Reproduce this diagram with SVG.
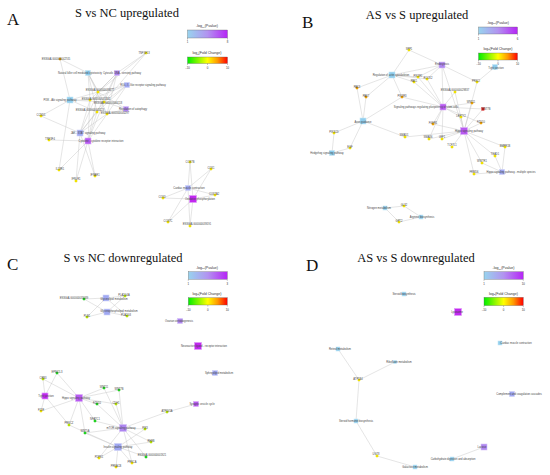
<svg xmlns="http://www.w3.org/2000/svg" width="550" height="475" viewBox="0 0 550 475">
<style>
.bg{fill:#fff}
.e line{stroke:#c4c4c4;stroke-width:0.45}
.lb{font-family:"Liberation Sans",Arial,sans-serif;font-size:2.6px;fill:#444;text-anchor:middle;dominant-baseline:central}
.ttl{font-family:"Liberation Serif","Times New Roman",serif;font-size:12.5px;fill:#111;text-anchor:middle}
.let{font-family:"Liberation Serif","Times New Roman",serif;font-size:17px;fill:#111}
.lgt{font-family:"Liberation Sans",Arial,sans-serif;font-size:3.6px;fill:#333;text-anchor:middle}
.tk{font-family:"Liberation Sans",Arial,sans-serif;font-size:2.8px;fill:#333;text-anchor:middle}
.bar{stroke:#666;stroke-width:0.35}
.tkl{stroke:#555;stroke-width:0.35}
.pb{fill:#8fcdee;stroke:#c6e6f6;stroke-width:0.6}
.pl{fill:#a0a8f2;stroke:#cfd3f8;stroke-width:0.6}
.pv{fill:#ae86f0;stroke:#d6c2f8;stroke-width:0.6}
.pp{fill:#b85af2;stroke:#dcb0f8;stroke-width:0.6}
.pm{fill:#c228f0;stroke:#e09cf8;stroke-width:0.7}
.gy{fill:#f2e400;stroke:#e0d000;stroke-width:0.2}
.go{fill:#f0a400;stroke:#d89000;stroke-width:0.2}
.gr{fill:#e41414;stroke:#c00000;stroke-width:0.2}
.gg{fill:#22d622;stroke:#14b014;stroke-width:0.2}
.gl{fill:#b8e400;stroke:#a0c800;stroke-width:0.2}
</style>
<defs>
<linearGradient id="gP" x1="0" x2="1" y1="0" y2="0">
<stop offset="0" stop-color="#98d4ee"/><stop offset="0.5" stop-color="#b293f0"/><stop offset="1" stop-color="#b624f6"/>
</linearGradient>
<linearGradient id="gF" x1="0" x2="1" y1="0" y2="0">
<stop offset="0" stop-color="#00ee00"/><stop offset="0.5" stop-color="#ffff00"/><stop offset="0.75" stop-color="#ff9900"/><stop offset="1" stop-color="#ff0000"/>
</linearGradient>
</defs>
<rect class="bg" x="0" y="0" width="550" height="475"/>

<!-- Titles -->
<g id="titles">
<text class="let" x="7" y="25">A</text>
<text class="ttl" x="127" y="17">S vs NC upregulated</text>
<text class="let" x="302" y="28">B</text>
<text class="ttl" x="417" y="19">AS vs S upregulated</text>
<text class="let" x="7" y="270">C</text>
<text class="ttl" x="123" y="262">S vs NC downregulated</text>
<text class="let" x="306" y="271">D</text>
<text class="ttl" x="416" y="262">AS vs S downregulated</text>
</g>

<!-- Legends -->
<g id="legend-A">
<text class="lgt" x="207" y="27">-log<tspan font-size="2.4" dy="0.8">10</tspan><tspan dy="-0.8">(Pvalue)</tspan></text>
<rect class="bar" x="187.5" y="30" width="40" height="8" fill="url(#gP)"/>
<line class="tkl" x1="187.5" y1="38" x2="187.5" y2="39.5"/><line class="tkl" x1="227.5" y1="38" x2="227.5" y2="39.5"/>
<text class="tk" x="187.5" y="42.5">1</text><text class="tk" x="227.5" y="42.5">8</text>
<text class="lgt" x="207" y="54">log<tspan font-size="2.4" dy="0.8">2</tspan><tspan dy="-0.8">(Fold Change)</tspan></text>
<rect class="bar" x="187.5" y="57" width="40" height="6.5" fill="url(#gF)"/>
<line class="tkl" x1="187.5" y1="63.5" x2="187.5" y2="65"/><line class="tkl" x1="207.5" y1="63.5" x2="207.5" y2="65"/><line class="tkl" x1="227.5" y1="63.5" x2="227.5" y2="65"/>
<text class="tk" x="187.5" y="68.5">−10</text><text class="tk" x="207.5" y="68.5">0</text><text class="tk" x="227.5" y="68.5">10</text>
</g>
<g id="legend-B">
<text class="lgt" x="498" y="23.5">-log<tspan font-size="2.4" dy="0.8">10</tspan><tspan dy="-0.8">(Pvalue)</tspan></text>
<rect class="bar" x="478.5" y="27" width="39" height="7" fill="url(#gP)"/>
<line class="tkl" x1="478.5" y1="34" x2="478.5" y2="35.5"/><line class="tkl" x1="517.5" y1="34" x2="517.5" y2="35.5"/>
<text class="tk" x="478.5" y="39.5">1</text><text class="tk" x="517.5" y="39.5">6</text>
<text class="lgt" x="498" y="49.5">log<tspan font-size="2.4" dy="0.8">2</tspan><tspan dy="-0.8">(Fold Change)</tspan></text>
<rect class="bar" x="478.5" y="53" width="39" height="7" fill="url(#gF)"/>
<line class="tkl" x1="478.5" y1="60" x2="478.5" y2="61.5"/><line class="tkl" x1="498" y1="60" x2="498" y2="61.5"/><line class="tkl" x1="517.5" y1="60" x2="517.5" y2="61.5"/>
<text class="tk" x="478.5" y="64.5">−10</text><text class="tk" x="498" y="64.5">0</text><text class="tk" x="517.5" y="64.5">10</text>
</g>
<g id="legend-C">
<text class="lgt" x="207" y="268.5">-log<tspan font-size="2.4" dy="0.8">10</tspan><tspan dy="-0.8">(Pvalue)</tspan></text>
<rect class="bar" x="188.3" y="271.7" width="39" height="7.6" fill="url(#gP)"/>
<line class="tkl" x1="188.3" y1="279.3" x2="188.3" y2="280.8"/><line class="tkl" x1="227.3" y1="279.3" x2="227.3" y2="280.8"/>
<text class="tk" x="188.3" y="284.5">1</text><text class="tk" x="227.3" y="284.5">3</text>
<text class="lgt" x="207" y="294.5">log<tspan font-size="2.4" dy="0.8">2</tspan><tspan dy="-0.8">(Fold Change)</tspan></text>
<rect class="bar" x="188.3" y="297.7" width="39" height="7.3" fill="url(#gF)"/>
<line class="tkl" x1="188.3" y1="305" x2="188.3" y2="306.5"/><line class="tkl" x1="207.8" y1="305" x2="207.8" y2="306.5"/><line class="tkl" x1="227.3" y1="305" x2="227.3" y2="306.5"/>
<text class="tk" x="188.3" y="310.5">−10</text><text class="tk" x="207.8" y="310.5">0</text><text class="tk" x="227.3" y="310.5">10</text>
</g>
<g id="legend-D">
<text class="lgt" x="503.5" y="269">-log<tspan font-size="2.4" dy="0.8">10</tspan><tspan dy="-0.8">(Pvalue)</tspan></text>
<rect class="bar" x="484" y="271.7" width="39.3" height="7.6" fill="url(#gP)"/>
<line class="tkl" x1="484" y1="279.3" x2="484" y2="280.8"/><line class="tkl" x1="523.3" y1="279.3" x2="523.3" y2="280.8"/>
<text class="tk" x="484" y="284.5">1</text><text class="tk" x="523.3" y="284.5">10</text>
<text class="lgt" x="503.5" y="294.5">log<tspan font-size="2.4" dy="0.8">2</tspan><tspan dy="-0.8">(Fold Change)</tspan></text>
<rect class="bar" x="484" y="297.3" width="39.3" height="8.3" fill="url(#gF)"/>
<line class="tkl" x1="484" y1="305.6" x2="484" y2="307.1"/><line class="tkl" x1="503.6" y1="305.6" x2="503.6" y2="307.1"/><line class="tkl" x1="523.3" y1="305.6" x2="523.3" y2="307.1"/>
<text class="tk" x="484" y="310.5">−10</text><text class="tk" x="503.6" y="310.5">0</text><text class="tk" x="523.3" y="310.5">10</text>
</g>

<!-- Connectors -->
<g id="connectors" class="e">
<!-- A cluster 1 -->
<line x1="146" y1="53" x2="117" y2="73"/><line x1="146" y1="53" x2="98" y2="92"/><line x1="146" y1="53" x2="104" y2="102"/>
<line x1="60" y1="59" x2="88" y2="73"/><line x1="60" y1="59" x2="70" y2="100"/>
<line x1="88" y1="73" x2="98" y2="92"/><line x1="88" y1="73" x2="90" y2="100"/><line x1="88" y1="73" x2="104" y2="102"/><line x1="88" y1="73" x2="97" y2="112"/><line x1="88" y1="73" x2="107" y2="114"/>
<line x1="117" y1="73" x2="98" y2="92"/><line x1="117" y1="73" x2="90" y2="100"/><line x1="117" y1="73" x2="104" y2="102"/><line x1="117" y1="73" x2="97" y2="112"/><line x1="117" y1="73" x2="107" y2="114"/>
<line x1="127" y1="85" x2="98" y2="92"/><line x1="127" y1="85" x2="90" y2="100"/><line x1="127" y1="85" x2="104" y2="102"/><line x1="127" y1="85" x2="97" y2="112"/><line x1="127" y1="85" x2="107" y2="114"/>
<line x1="126" y1="109" x2="98" y2="92"/><line x1="126" y1="109" x2="104" y2="102"/><line x1="126" y1="109" x2="107" y2="114"/>
<line x1="70" y1="100" x2="98" y2="92"/><line x1="70" y1="100" x2="90" y2="100"/><line x1="70" y1="100" x2="104" y2="102"/><line x1="70" y1="100" x2="41" y2="116"/><line x1="70" y1="100" x2="59" y2="170"/><line x1="70" y1="100" x2="97" y2="112"/>
<line x1="80" y1="133" x2="98" y2="92"/><line x1="80" y1="133" x2="90" y2="100"/><line x1="80" y1="133" x2="104" y2="102"/><line x1="80" y1="133" x2="97" y2="112"/><line x1="80" y1="133" x2="107" y2="114"/><line x1="80" y1="133" x2="41" y2="116"/><line x1="80" y1="133" x2="76" y2="181"/><line x1="80" y1="133" x2="95" y2="176"/>
<line x1="88" y1="141" x2="98" y2="92"/><line x1="88" y1="141" x2="90" y2="100"/><line x1="88" y1="141" x2="104" y2="102"/><line x1="88" y1="141" x2="97" y2="112"/><line x1="88" y1="141" x2="107" y2="114"/><line x1="88" y1="141" x2="49" y2="140"/><line x1="88" y1="141" x2="59" y2="170"/><line x1="88" y1="141" x2="76" y2="181"/><line x1="88" y1="141" x2="95" y2="176"/>
<!-- A cluster 2 -->
<line x1="188" y1="188" x2="190" y2="162"/><line x1="188" y1="188" x2="211" y2="169"/><line x1="188" y1="188" x2="215" y2="195"/><line x1="188" y1="188" x2="163" y2="198"/><line x1="188" y1="188" x2="168" y2="222"/><line x1="188" y1="188" x2="190" y2="226"/>
<line x1="193" y1="199" x2="190" y2="162"/><line x1="193" y1="199" x2="211" y2="169"/><line x1="193" y1="199" x2="215" y2="195"/><line x1="193" y1="199" x2="163" y2="198"/><line x1="193" y1="199" x2="168" y2="222"/><line x1="193" y1="199" x2="190" y2="226"/>
<!-- B -->
<line x1="409" y1="50" x2="392" y2="75"/><line x1="409" y1="50" x2="442" y2="65"/>
<line x1="392" y1="75" x2="418" y2="77"/><line x1="392" y1="75" x2="414" y2="82"/><line x1="392" y1="75" x2="427" y2="79"/><line x1="392" y1="75" x2="357" y2="88"/><line x1="392" y1="75" x2="366" y2="97"/><line x1="392" y1="75" x2="402" y2="97"/><line x1="392" y1="75" x2="442" y2="65"/>
<line x1="442" y1="65" x2="418" y2="77"/><line x1="442" y1="65" x2="427" y2="79"/><line x1="442" y1="65" x2="443" y2="107"/><line x1="442" y1="65" x2="477" y2="82"/><line x1="442" y1="65" x2="464" y2="131"/>
<line x1="495" y1="67" x2="477" y2="82"/><line x1="477" y1="82" x2="464" y2="131"/>
<line x1="443" y1="107" x2="402" y2="97"/><line x1="443" y1="107" x2="455" y2="92"/><line x1="443" y1="107" x2="472" y2="103"/><line x1="443" y1="107" x2="483" y2="109"/><line x1="443" y1="107" x2="481" y2="123"/><line x1="443" y1="107" x2="461" y2="117"/><line x1="443" y1="107" x2="433" y2="124"/><line x1="443" y1="107" x2="429" y2="139"/><line x1="443" y1="107" x2="442" y2="139"/><line x1="443" y1="107" x2="418" y2="77"/><line x1="443" y1="107" x2="427" y2="79"/><line x1="443" y1="107" x2="414" y2="82"/>
<line x1="464" y1="131" x2="472" y2="103"/><line x1="464" y1="131" x2="483" y2="109"/><line x1="464" y1="131" x2="481" y2="123"/><line x1="464" y1="131" x2="461" y2="117"/><line x1="464" y1="131" x2="455" y2="92"/><line x1="464" y1="131" x2="405" y2="137"/><line x1="464" y1="131" x2="429" y2="139"/><line x1="464" y1="131" x2="442" y2="139"/><line x1="464" y1="131" x2="452" y2="147"/><line x1="464" y1="131" x2="505" y2="147"/><line x1="464" y1="131" x2="495" y2="156"/><line x1="464" y1="131" x2="482" y2="163"/><line x1="464" y1="131" x2="474" y2="174"/><line x1="464" y1="131" x2="433" y2="124"/>
<line x1="363" y1="121" x2="357" y2="88"/><line x1="363" y1="121" x2="366" y2="97"/><line x1="363" y1="121" x2="334" y2="133"/><line x1="363" y1="121" x2="350" y2="148"/><line x1="363" y1="121" x2="405" y2="137"/><line x1="363" y1="121" x2="402" y2="97"/>
<line x1="332" y1="153" x2="334" y2="133"/><line x1="332" y1="153" x2="350" y2="148"/>
<line x1="502" y1="172" x2="505" y2="147"/><line x1="502" y1="172" x2="495" y2="156"/><line x1="502" y1="172" x2="474" y2="174"/><line x1="502" y1="172" x2="482" y2="163"/>
<line x1="385" y1="208" x2="404" y2="206"/><line x1="385" y1="208" x2="399" y2="222"/><line x1="421" y1="217" x2="404" y2="206"/><line x1="421" y1="217" x2="399" y2="222"/>
<!-- C top -->
<line x1="106" y1="298" x2="84" y2="299"/><line x1="106" y1="298" x2="125" y2="296"/><line x1="106" y1="298" x2="127" y2="316"/><line x1="106" y1="298" x2="87" y2="317"/>
<line x1="107" y1="312" x2="84" y2="299"/><line x1="107" y1="312" x2="125" y2="296"/><line x1="107" y1="312" x2="127" y2="316"/><line x1="107" y1="312" x2="87" y2="317"/>
<!-- C big -->
<line x1="45" y1="396" x2="43" y2="379"/><line x1="45" y1="396" x2="57" y2="373"/><line x1="45" y1="396" x2="41" y2="411"/><line x1="45" y1="396" x2="69" y2="425"/>
<line x1="79" y1="398" x2="57" y2="373"/><line x1="79" y1="398" x2="43" y2="379"/><line x1="79" y1="398" x2="41" y2="411"/><line x1="79" y1="398" x2="104" y2="388"/><line x1="79" y1="398" x2="119" y2="390"/><line x1="79" y1="398" x2="97" y2="404"/><line x1="79" y1="398" x2="116" y2="404"/><line x1="79" y1="398" x2="95" y2="421"/><line x1="79" y1="398" x2="69" y2="425"/><line x1="79" y1="398" x2="85" y2="433"/>
<line x1="123" y1="428" x2="104" y2="388"/><line x1="123" y1="428" x2="119" y2="390"/><line x1="123" y1="428" x2="97" y2="404"/><line x1="123" y1="428" x2="116" y2="404"/><line x1="123" y1="428" x2="95" y2="421"/><line x1="123" y1="428" x2="85" y2="433"/><line x1="123" y1="428" x2="145" y2="429"/><line x1="123" y1="428" x2="151" y2="442"/><line x1="123" y1="428" x2="146" y2="457"/><line x1="123" y1="428" x2="167" y2="412"/><line x1="123" y1="428" x2="99" y2="458"/><line x1="123" y1="428" x2="132" y2="463"/>
<line x1="118" y1="447" x2="99" y2="458"/><line x1="118" y1="447" x2="116" y2="467"/><line x1="118" y1="447" x2="132" y2="463"/><line x1="118" y1="447" x2="146" y2="457"/><line x1="118" y1="447" x2="151" y2="442"/><line x1="118" y1="447" x2="145" y2="429"/><line x1="118" y1="447" x2="69" y2="425"/><line x1="118" y1="447" x2="85" y2="433"/>
<line x1="196" y1="404" x2="167" y2="412"/>
<!-- D -->
<line x1="338" y1="349" x2="359" y2="380"/><line x1="395" y1="362" x2="359" y2="380"/><line x1="359" y1="380" x2="356" y2="421"/><line x1="356" y1="421" x2="377" y2="456"/><line x1="377" y1="456" x2="415" y2="467"/><line x1="452" y1="459" x2="484" y2="447"/>
</g>

<!-- Panel A nodes -->
<g id="A-nk"><rect class="pb" x="85.5" y="70.5" width="5" height="5"/><text class="lb" x="80" y="73">Natural killer cell mediated cytotoxicity</text></g>
<g id="A-cds"><rect class="pv" x="114.5" y="70.5" width="5" height="5"/><text class="lb" x="122" y="73">Cytosolic DNA - sensing pathway</text></g>
<g id="A-rig"><rect class="pl" x="124.5" y="82.5" width="5" height="5"/><text class="lb" x="143" y="85">RIG - I - like receptor signaling pathway</text></g>
<g id="A-pi3k"><rect class="pb" x="67" y="97" width="6" height="6"/><text class="lb" x="60" y="100">PI3K - Akt signaling pathway</text></g>
<g id="A-aut"><rect class="pv" x="123.5" y="106.5" width="5" height="5"/><text class="lb" x="133" y="109">Regulation of autophagy</text></g>
<g id="A-jak"><rect class="pl" x="77" y="130" width="6" height="6"/><text class="lb" x="88" y="133">JAK - STAT signaling pathway</text></g>
<g id="A-ccri"><rect class="pp" x="85" y="138" width="6" height="6"/><text class="lb" x="101" y="141">Cytokine - cytokine receptor interaction</text></g>
<g id="A-cardiac"><rect class="pl" x="185.5" y="185.5" width="5" height="5"/><text class="lb" x="189" y="188">Cardiac muscle contraction</text></g>
<g id="A-oxphos"><rect class="pm" x="189.5" y="195.5" width="7" height="7"/><text class="lb" x="200" y="199">Oxidative phosphorylation</text></g>
<g id="A-g1"><circle class="gy" cx="146" cy="53" r="1.3"/><text class="lb" x="144" y="53">TNFSF13</text></g>
<g id="A-g2"><circle class="go" cx="60" cy="59" r="1.3"/><text class="lb" x="56" y="59">ENSGALG00000042745</text></g>
<g id="A-g3"><circle class="gy" cx="98" cy="92" r="1.3"/><text class="lb" x="100" y="90.5">ENSGALG00000033477</text></g>
<g id="A-g4"><circle class="gy" cx="90" cy="100" r="1.3"/><text class="lb" x="96" y="99">ENSGALG00000031342</text></g>
<g id="A-g5"><circle class="gy" cx="104" cy="102" r="1.3"/><text class="lb" x="108" y="103">ENSGALG00000046118</text></g>
<g id="A-g6"><circle class="gy" cx="97" cy="112" r="1.3"/><text class="lb" x="90" y="110">ENSGALG00000045123</text></g>
<g id="A-g7"><circle class="gy" cx="107" cy="114" r="1.3"/><text class="lb" x="115" y="113">ENSGALG00000040297</text></g>
<g id="A-g8"><circle class="gy" cx="41" cy="116" r="1.3"/><text class="lb" x="41" y="115">CCND1</text></g>
<g id="A-g9"><circle class="gy" cx="49" cy="140" r="1.3"/><text class="lb" x="50" y="139">TNFSF4</text></g>
<g id="A-g10"><circle class="gy" cx="59" cy="170" r="1.3"/><text class="lb" x="60" y="169">IL18R1</text></g>
<g id="A-g11"><circle class="gy" cx="76" cy="181" r="1.3"/><text class="lb" x="76" y="179">IFNLR1</text></g>
<g id="A-g12"><circle class="gy" cx="95" cy="176" r="1.3"/><text class="lb" x="95" y="175">IFNAR1</text></g>
<g id="A-g13"><circle class="gy" cx="190" cy="162" r="1.3"/><text class="lb" x="190" y="162">COX7B</text></g>
<g id="A-g14"><circle class="gy" cx="211" cy="169" r="1.3"/><text class="lb" x="211" y="168.5">COX1</text></g>
<g id="A-g15"><circle class="gy" cx="215" cy="195" r="1.3"/><text class="lb" x="214" y="194">COX7A2</text></g>
<g id="A-g16"><circle class="gy" cx="163" cy="198" r="1.3"/><text class="lb" x="162" y="197">COX3</text></g>
<g id="A-g17"><circle class="gy" cx="168" cy="222" r="1.3"/><text class="lb" x="168" y="221">COX7C</text></g>
<g id="A-g18"><circle class="gy" cx="190" cy="226" r="1.3"/><text class="lb" x="197" y="224.5">ENSGALG00000039191</text></g>

<!-- Panel B nodes -->
<g id="B-endo"><rect class="pv" x="439" y="62" width="6" height="6"/><text class="lb" x="442" y="64">Endocytosis</text></g>
<g id="B-tight"><rect class="pb" x="492.5" y="64.5" width="5" height="5"/><text class="lb" x="496" y="68">Tight junction</text></g>
<g id="B-actin"><rect class="pb" x="389" y="72" width="6" height="6"/><text class="lb" x="391" y="75">Regulation of actin cytoskeleton</text></g>
<g id="B-pluri"><rect class="pp" x="440" y="104" width="6" height="6"/><text class="lb" x="426" y="107">Signaling pathways regulating pluripotency of stem cells</text></g>
<g id="B-axon"><rect class="pb" x="360" y="118" width="6" height="6"/><text class="lb" x="363" y="122">Axon guidance</text></g>
<g id="B-hippo"><rect class="pp" x="460.5" y="127.5" width="7" height="7"/><text class="lb" x="469" y="131">Hippo signaling pathway</text></g>
<g id="B-hedge"><rect class="pb" x="329.5" y="150.5" width="5" height="5"/><text class="lb" x="327" y="153">Hedgehog signaling pathway</text></g>
<g id="B-hipm"><rect class="pl" x="499.5" y="169.5" width="5" height="5"/><text class="lb" x="511" y="172">Hippo signaling pathway - multiple species</text></g>
<g id="B-nitro"><rect class="pb" x="383" y="206" width="4" height="4"/><text class="lb" x="379" y="208">Nitrogen metabolism</text></g>
<g id="B-argin"><rect class="pb" x="419" y="215" width="4" height="4"/><text class="lb" x="422" y="217">Arginine biosynthesis</text></g>
<g id="B-g1"><circle class="gy" cx="409" cy="50" r="1.3"/><text class="lb" x="409" y="49">SPP1</text></g>
<g id="B-g2"><circle class="gy" cx="418" cy="77" r="1.3"/><text class="lb" x="418" y="76">PIK3R1</text></g>
<g id="B-g3"><circle class="gy" cx="427" cy="79" r="1.3"/><text class="lb" x="428" y="78">ROCK2</text></g>
<g id="B-g4"><circle class="gy" cx="414" cy="82" r="1.3"/><text class="lb" x="414" y="81">PAK1</text></g>
<g id="B-g5"><circle class="gy" cx="477" cy="82" r="1.3"/><text class="lb" x="476" y="81">PRKCI</text></g>
<g id="B-g6"><circle class="go" cx="357" cy="88" r="1.3"/><text class="lb" x="357" y="87">PAK3</text></g>
<g id="B-g7"><circle class="go" cx="366" cy="97" r="1.3"/><text class="lb" x="366" y="96">PAK7</text></g>
<g id="B-g8"><circle class="go" cx="402" cy="97" r="1.3"/><text class="lb" x="402" y="96">PIK3R3</text></g>
<g id="B-g9"><circle class="gy" cx="455" cy="92" r="1.3"/><text class="lb" x="455" y="90">ENSGALG00000029837</text></g>
<g id="B-g10"><circle class="go" cx="472" cy="103" r="1.3"/><text class="lb" x="471" y="102">WNT11</text></g>
<g id="B-g11"><rect class="gr" x="481.6" y="107.6" width="2.8" height="2.8"/><text class="lb" x="486" y="109">WNT7B</text></g>
<g id="B-g12"><circle class="gy" cx="461" cy="117" r="1.3"/><text class="lb" x="461" y="116">LEFTY2</text></g>
<g id="B-g13"><circle class="go" cx="481" cy="123" r="1.3"/><text class="lb" x="481" y="122">FZD10</text></g>
<g id="B-g14"><circle class="go" cx="433" cy="124" r="1.3"/><text class="lb" x="433" y="123">FGFR1</text></g>
<g id="B-g15"><circle class="gy" cx="405" cy="137" r="1.3"/><text class="lb" x="404" y="135.5">SMAD1</text></g>
<g id="B-g16"><circle class="gy" cx="429" cy="139" r="1.3"/><text class="lb" x="428" y="137.5">SMAD6</text></g>
<g id="B-g17"><circle class="gy" cx="442" cy="139" r="1.3"/><text class="lb" x="442" y="137.5">LEF1</text></g>
<g id="B-g18"><circle class="gy" cx="452" cy="147" r="1.3"/><text class="lb" x="452" y="145.5">TCF7L1</text></g>
<g id="B-g19"><circle class="gy" cx="334" cy="133" r="1.3"/><text class="lb" x="334" y="132">PIK3CD</text></g>
<g id="B-g20"><circle class="gy" cx="350" cy="148" r="1.3"/><text class="lb" x="350" y="147">EGF</text></g>
<g id="B-g21"><circle class="gy" cx="505" cy="147" r="1.3"/><text class="lb" x="505" y="146">BMPR1B</text></g>
<g id="B-g22"><circle class="gy" cx="495" cy="156" r="1.3"/><text class="lb" x="495" y="154.5">TEAD1</text></g>
<g id="B-g23"><circle class="gy" cx="482" cy="163" r="1.3"/><text class="lb" x="482" y="161.5">WWTR1</text></g>
<g id="B-g24"><circle class="gy" cx="474" cy="174" r="1.3"/><text class="lb" x="474" y="172.5">FRMD6</text></g>
<g id="B-g25"><circle class="gy" cx="404" cy="206" r="1.3"/><text class="lb" x="404" y="205">GLS2</text></g>
<g id="B-g26"><circle class="gy" cx="399" cy="222" r="1.3"/><text class="lb" x="399" y="221">GPT2</text></g>

<!-- Panel C nodes -->
<g id="C-glyl"><rect class="pl" x="103" y="295" width="6" height="6"/><text class="lb" x="114" y="299">Glycerolipid metabolism</text></g>
<g id="C-glyp"><rect class="pl" x="104" y="309" width="6" height="6"/><text class="lb" x="119" y="311">Glycerophospholipid metabolism</text></g>
<g id="C-ovar"><rect class="pv" x="177.5" y="318.5" width="5" height="5"/><text class="lb" x="179" y="321">Ovarian steroidogenesis</text></g>
<g id="C-neuro"><rect class="pm" x="194.5" y="342.5" width="7" height="7"/><text class="lb" x="204" y="346">Neuroactive ligand - receptor interaction</text></g>
<g id="C-sphingo"><rect class="pl" x="212.5" y="370.5" width="5" height="5"/><text class="lb" x="219" y="373">Sphingolipid metabolism</text></g>
<g id="C-syn"><rect class="pp" x="193.5" y="401.5" width="5" height="5"/><text class="lb" x="202" y="404">Synaptic vesicle cycle</text></g>
<g id="C-tight"><rect class="pm" x="42" y="393" width="6" height="6"/><text class="lb" x="46" y="396">Tight junction</text></g>
<g id="C-hippo"><rect class="pp" x="75.5" y="394.5" width="7" height="7"/><text class="lb" x="76" y="398">Hippo signaling pathway</text></g>
<g id="C-mtor"><rect class="pv" x="119.5" y="424.5" width="7" height="7"/><text class="lb" x="121" y="428">mTOR signaling pathway</text></g>
<g id="C-ins"><rect class="pl" x="114.5" y="443.5" width="7" height="7"/><text class="lb" x="118" y="447">Insulin signaling pathway</text></g>
<g id="C-g1"><circle class="gg" cx="84" cy="299" r="1.3"/><text class="lb" x="74" y="298">ENSGALG00000035089</text></g>
<g id="C-g2"><circle class="gl" cx="125" cy="296" r="1.3"/><text class="lb" x="124" y="295">PLA2G4A</text></g>
<g id="C-g3"><circle class="gl" cx="127" cy="316" r="1.3"/><text class="lb" x="126" y="315">PLA2G3</text></g>
<g id="C-g4"><circle class="gl" cx="87" cy="317" r="1.3"/><text class="lb" x="87" y="316">PLB1</text></g>
<g id="C-g5"><circle class="gg" cx="57" cy="373" r="1.3"/><text class="lb" x="57" y="372">EPB41L3</text></g>
<g id="C-g6"><circle class="gl" cx="43" cy="379" r="1.3"/><text class="lb" x="43" y="378">CRB3</text></g>
<g id="C-g7"><circle class="gy" cx="41" cy="411" r="1.3"/><text class="lb" x="41" y="410">F11R</text></g>
<g id="C-g8"><circle class="gg" cx="104" cy="388" r="1.3"/><text class="lb" x="104" y="387">WNT11</text></g>
<g id="C-g9"><circle class="gg" cx="119" cy="390" r="1.3"/><text class="lb" x="119" y="389">WNT7B</text></g>
<g id="C-g10"><circle class="gg" cx="97" cy="404" r="1.3"/><text class="lb" x="97" y="403">FZD10</text></g>
<g id="C-g11"><circle class="gl" cx="116" cy="404" r="1.3"/><text class="lb" x="116" y="403">CDH1</text></g>
<g id="C-g12"><circle class="gg" cx="95" cy="421" r="1.3"/><text class="lb" x="95" y="419.5">NFATC1</text></g>
<g id="C-g13"><circle class="gl" cx="69" cy="425" r="1.3"/><text class="lb" x="69" y="423.5">PRKCZ</text></g>
<g id="C-g14"><circle class="gg" cx="85" cy="433" r="1.3"/><text class="lb" x="85" y="431.5">WNT5A</text></g>
<g id="C-g15"><circle class="gl" cx="145" cy="429" r="1.3"/><text class="lb" x="145" y="428">PIK3</text></g>
<g id="C-g16"><circle class="gl" cx="151" cy="442" r="1.3"/><text class="lb" x="151" y="441">RHEB</text></g>
<g id="C-g17"><circle class="gg" cx="146" cy="457" r="1.3"/><text class="lb" x="152" y="455.5">ENSGALG00000001921</text></g>
<g id="C-g18"><circle class="gy" cx="99" cy="458" r="1.3"/><text class="lb" x="99" y="457">PDPK1</text></g>
<g id="C-g19"><circle class="gy" cx="116" cy="467" r="1.3"/><text class="lb" x="116" y="466">PRKACB</text></g>
<g id="C-g20"><circle class="gy" cx="132" cy="463" r="1.3"/><text class="lb" x="132" y="462">PRKCA</text></g>
<g id="C-g21"><circle class="gl" cx="167" cy="412" r="1.3"/><text class="lb" x="167" y="411">ATP6V1A</text></g>

<!-- Panel D nodes -->
<g id="D-steroid"><rect class="pb" x="402" y="292" width="4" height="4"/><text class="lb" x="404" y="294">Steroid biosynthesis</text></g>
<g id="D-lyso"><rect class="pm" x="454.5" y="308.5" width="7" height="7"/><text class="lb" x="457" y="312">Lysosome</text></g>
<g id="D-cardiac"><rect class="pb" x="498" y="341" width="4" height="4"/><text class="lb" x="516" y="343">Cardiac muscle contraction</text></g>
<g id="D-retinol"><rect class="pb" x="336" y="347" width="4" height="4"/><text class="lb" x="340" y="349">Retinol metabolism</text></g>
<g id="D-ribo"><rect class="pb" x="393.5" y="360.5" width="3" height="3"/><text class="lb" x="399" y="362">Riboflavin metabolism</text></g>
<g id="D-compl"><rect class="pl" x="509.5" y="391.5" width="5" height="5"/><text class="lb" x="519" y="394">Complement and coagulation cascades</text></g>
<g id="D-sthorm"><rect class="pb" x="354" y="419" width="4" height="4"/><text class="lb" x="356" y="421.5">Steroid hormone biosynthesis</text></g>
<g id="D-galac"><rect class="pb" x="413" y="465" width="4" height="4"/><text class="lb" x="415" y="467">Galactose metabolism</text></g>
<g id="D-carbo"><rect class="pb" x="450" y="457" width="4" height="4"/><text class="lb" x="453" y="459">Carbohydrate digestion and absorption</text></g>
<g id="D-lactase"><rect class="pv" x="481" y="444" width="6" height="6"/><text class="lb" x="482" y="447">Lactose</text></g>
<g id="D-g1"><circle class="gy" cx="359" cy="380" r="1.3"/><text class="lb" x="358" y="379">ATP1B4</text></g>
<g id="D-g2"><circle class="gy" cx="377" cy="456" r="1.3"/><text class="lb" x="376" y="454.5">UGT8</text></g>
</svg>
